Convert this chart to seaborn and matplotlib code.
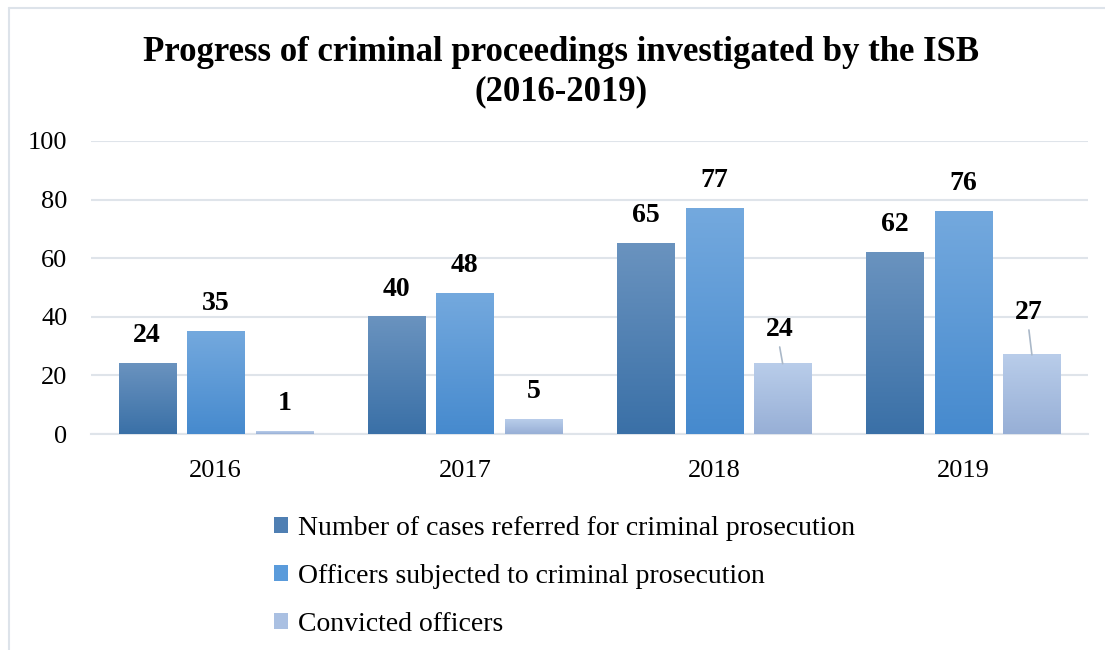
import numpy as np
import pandas as pd
import matplotlib
matplotlib.use("Agg")
import matplotlib.pyplot as plt
from matplotlib.colors import LinearSegmentedColormap
from matplotlib.patches import Patch
from matplotlib.lines import Line2D
import seaborn as sns

# ---- data ----
years = ["2016", "2017", "2018", "2019"]
series_names = [
    "Number of cases referred for criminal prosecution",
    "Officers subjected to criminal prosecution",
    "Convicted officers",
]
cases_referred = [24, 40, 65, 62]
officers_prosecuted = [35, 48, 77, 76]
convicted = [1, 5, 24, 27]
y_ticks = [0, 20, 40, 60, 80, 100]

values = [cases_referred, officers_prosecuted, convicted]
df = pd.DataFrame({
    "year": [y for _ in series_names for y in years],
    "series": [s for s in series_names for _ in years],
    "value": [v for vals in values for v in vals],
})

# top / bottom colours of each series' vertical gradient
grad_colors = [
    ("#6a93bf", "#3a70a7"),
    ("#74a9de", "#468ace"),
    ("#b9cdea", "#97afd6"),
]
mid_colors = ["#4f7fb3", "#5a9bdb", "#aac0e2"]

sns.set_theme(style="white")
plt.rcParams["font.family"] = ["Liberation Serif", "DejaVu Serif"]
plt.rcParams["text.color"] = "black"

fig = plt.figure(figsize=(11.05, 6.5), dpi=100)
ax = fig.add_axes([0.0824, 0.3323, 0.9022, 0.4508])

sns.barplot(data=df, x="year", y="value", hue="series", hue_order=series_names,
            palette=mid_colors, width=0.825, gap=0.168, legend=False, ax=ax,
            zorder=3)

ax.set_xlabel("")
ax.set_ylabel("")
ax.set_yticks(y_ticks)
ax.grid(axis="y", color="#dfe4ea", linewidth=1.5, zorder=0)
ax.set_axisbelow(True)
for side in ["top", "right", "left"]:
    ax.spines[side].set_visible(False)
ax.spines["bottom"].set_color("#dfe4ea")
ax.spines["bottom"].set_linewidth(1.5)
ax.tick_params(axis="both", length=0, labelsize=19, colors="black")
ax.tick_params(axis="y", pad=17)
ax.tick_params(axis="x", pad=18.5)

# replace flat bars with vertical gradient fills
grad = np.linspace(0, 1, 256).reshape(-1, 1)
n_years = len(years)
bars = list(ax.patches)
for i, patch in enumerate(bars):
    s = i // n_years
    top, bottom = grad_colors[s]
    cmap = LinearSegmentedColormap.from_list(f"g{s}", [bottom, top])
    x0, y0 = patch.get_x(), patch.get_y()
    w, h = patch.get_width(), patch.get_height()
    patch.set_alpha(0)
    ax.imshow(grad, cmap=cmap, origin="lower", aspect="auto",
              extent=[x0, x0 + w, y0, y0 + h], zorder=3, interpolation="bilinear")
ax.set_xlim(-0.5, len(years) - 0.5)
ax.set_ylim(0, 100)

# data labels; two of them sit higher with a short leader line
# (label centre height, leader top height) in data units
lifted = {(2, 2): (35.8, 29.7), (2, 3): (41.6, 35.5)}
for i, patch in enumerate(bars):
    s, k = divmod(i, n_years)
    val = values[s][k]
    xc = patch.get_x() + patch.get_width() / 2
    if (s, k) not in lifted:
        ax.annotate(f"{val}", (xc, val), xytext=(0, 11), textcoords="offset points",
                    ha="center", va="bottom", fontsize=20, fontweight="bold",
                    color="black", zorder=5)
    else:
        y_text, y_lead = lifted[(s, k)]
        ax.text(xc - 0.012, y_text, f"{val}", ha="center", va="center",
                fontsize=20, fontweight="bold", color="black", zorder=5)
        ax.add_line(Line2D([xc - 0.012, xc], [y_lead, val],
                           color="#aab8c8", linewidth=1.2, zorder=4))

# title
fig.text(0.508, 0.889, "Progress of criminal proceedings investigated by the ISB\n(2016-2019)",
         ha="center", va="center", fontsize=25, fontweight="bold", linespacing=1.24,
         color="black")

# legend
handles = [Patch(facecolor=c, edgecolor="none") for c in mid_colors]
leg = fig.legend(handles, series_names, loc="upper center", bbox_to_anchor=(0.511, 0.206),
                 ncol=1, frameon=False, fontsize=20, labelspacing=0.82,
                 handlelength=0.5, handleheight=0.5, handletextpad=0.36,
                 borderpad=0, borderaxespad=0)
for t in leg.get_texts():
    t.set_color("black")

# chart frame
fig.add_artist(Line2D([0.008, 0.008], [0.0, 0.988], transform=fig.transFigure,
                      color="#dde3ea", linewidth=1.5))
fig.add_artist(Line2D([0.008, 1.0], [0.988, 0.988], transform=fig.transFigure,
                      color="#dde3ea", linewidth=1.5))

fig.savefig("out.png", dpi=100)
